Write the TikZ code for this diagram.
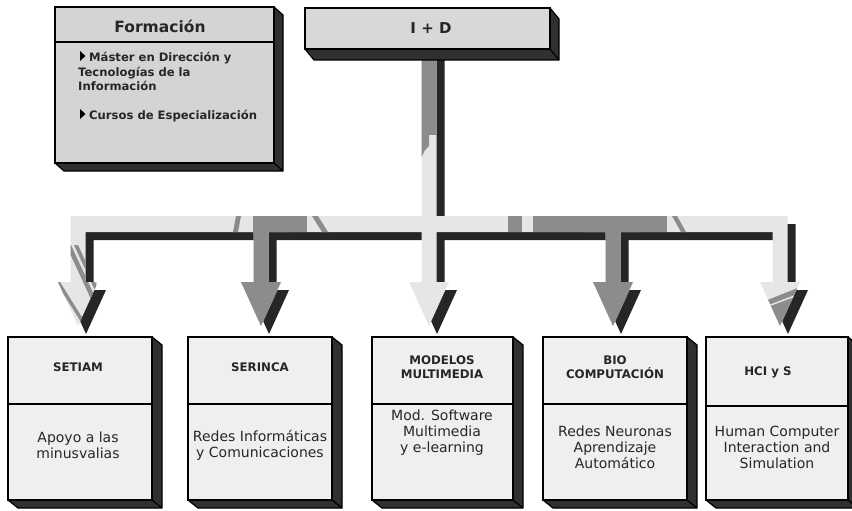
\documentclass[tikz,border=0pt]{standalone}
\usepackage{fontspec}
\setmainfont{DejaVu Sans}
\usetikzlibrary{calc}
\definecolor{arrlight}{HTML}{E6E6E6}
\definecolor{arrmed}{HTML}{8C8C8C}
\definecolor{arrdark}{HTML}{262626}
\definecolor{fillform}{HTML}{D4D4D4}
\definecolor{fillid}{HTML}{D8D8D8}
\definecolor{fillbox}{HTML}{EFEFEF}
\definecolor{shadowc}{HTML}{303030}

\newcommand\treeshape[1]{%
  \path[#1] (421.5,50) -- (436.5,50) -- (436.5,216) -- (787.5,216) -- (787.5,282) -- (800,282) -- (780,326) -- (760,282) -- (772.5,282) -- (772.5,232)
   -- (620.5,232) -- (620.5,282) -- (633,282) -- (613,326) -- (593,282) -- (605.5,282) -- (605.5,232)
   -- (436.5,232) -- (436.5,282) -- (449,282) -- (429,326) -- (409,282) -- (421.5,282) -- (421.5,232)
   -- (268.5,232) -- (268.5,282) -- (281,282) -- (261,326) -- (241,282) -- (253.5,282) -- (253.5,232)
   -- (85.5,232) -- (85.5,282) -- (98,282) -- (78,326) -- (58,282) -- (70.5,282) -- (70.5,216) -- (421.5,216) -- cycle;}

\newcommand\mkbox[8]{%
  \node[boxbase, fill=#8, minimum width={#4-#2}, minimum height={#5-#3}, anchor=north west] (#1) at (#2,#3) {};
  \filldraw[boxshadow] (#1.north east) -- ($(#1.north east)+(#6,#7)$) -- ($(#1.south east)+(#6,#7)$) -- ($(#1.south west)+(#6,#7)$) -- (#1.south west) -- (#1.south east) -- cycle;
  \draw[boxshadow] (#1.south east) -- ($(#1.south east)+(#6,#7)$);
  \draw[boxbase] (#1.north west) rectangle (#1.south east);
}

\tikzset{
  boxbase/.style={draw=black, line width=1.6pt, inner sep=0pt, outer sep=0pt},
  boxshadow/.style={fill=shadowc, draw=black, line width=1.2pt, line join=round},
  divline/.style={draw=black, line width=1.6pt},
  titletxt/.style={font=\fontsize{11.8}{14.5}\selectfont\bfseries, align=center, text=black!85},
  bodytxt/.style={font=\fontsize{14}{16}\selectfont, align=center, text=black!85},
  bullettxt/.style={font=\fontsize{11.6}{14.5}\selectfont\bfseries, anchor=base west, inner sep=0pt, text=black!85},
  headtxt/.style={font=\fontsize{15.5}{18}\selectfont\bfseries, text=black!85}
}

\begin{document}
\begin{tikzpicture}[x=1pt,y=-1pt]
\useasboundingbox (0,0) rectangle (852,511);
\fill[white] (0,0) rectangle (852,511);

% 3D arrow tree
\treeshape{fill=arrdark, shift={(8,8)}}
\treeshape{fill=arrlight}
\begin{scope}
  \treeshape{clip}
  \fill[arrmed] (410,50) rectangle (450,135);
  \fill[arrmed] (421,135) -- (429,135) -- (429,146) -- (425,150) -- (421,158) -- cycle;
  \fill[arrmed] (236,232) rectangle (290,335);
  \fill[arrmed] (253,216) rectangle (307,232);
  \fill[arrmed] (312,216) -- (318,216) -- (328,232) -- (322,232) -- cycle;
  \fill[arrmed] (236,216) -- (241,216) -- (238,232) -- (233,232) -- cycle;
  \fill[arrmed] (585,232) rectangle (640,335);
  \fill[arrmed] (533,216) rectangle (667,232);
  \fill[arrmed] (508,216) rectangle (522,232);
  \fill[arrmed] (672,216) -- (677,216) -- (686,232) -- (681,232) -- cycle;
  \fill[arrmed] (760,303) -- (800,287) -- (800,340) -- (760,340) -- cycle;
  \draw[arrlight, line width=1.5pt] (760,309) -- (800,294);
  \fill[arrmed] (66,245) -- (71,245) -- (101,310) -- (96,310) -- cycle;
  \fill[arrmed] (74,245) -- (78,245) -- (108,310) -- (104,310) -- cycle;
  \fill[arrmed] (56,282) -- (60,282) -- (90,330) -- (86,330) -- cycle;
\end{scope}

% top boxes
\mkbox{form}{55}{7}{274}{163}{9}{8}{fillform}
\draw[divline] (55,42) -- (274,42);
\node[headtxt] (formt) at (160,26) {Formación};
\fill[black] (80,51) -- (85.5,56) -- (80,61) -- cycle;
\node[bullettxt] (bl1) at (89,62) {Máster en Dirección y};
\node[bullettxt] (bl2) at (78,77) {Tecnologías de la};
\node[bullettxt] (bl3) at (78,91) {Información};
\fill[black] (80,109) -- (85.5,114) -- (80,119) -- cycle;
\node[bullettxt] (bl4) at (89,120) {Cursos de Especialización};

\mkbox{id}{305}{8}{550}{49}{9}{11}{fillid}
\node[headtxt, font=\fontsize{15}{18}\selectfont\bfseries] (idt) at (431,28) {I + D};

% bottom boxes
\mkbox{b1}{8}{337}{152}{500}{10}{8}{fillbox}
\mkbox{b2}{188}{337}{332}{500}{10}{8}{fillbox}
\mkbox{b3}{372}{337}{513}{500}{10}{8}{fillbox}
\mkbox{b4}{543}{337}{687}{500}{10}{8}{fillbox}
\mkbox{b5}{706}{337}{848}{500}{10}{8}{fillbox}
\draw[divline] (8,404) -- (152,404);
\draw[divline] (188,404) -- (332,404);
\draw[divline] (372,404) -- (513,404);
\draw[divline] (543,404) -- (687,404);
\draw[divline] (706,406) -- (848,406);

\node[titletxt] (t1) at (78,367) {SETIAM};
\node[titletxt] (t2) at (260,367) {SERINCA};
\node[titletxt] (t3) at (442,367) {MODELOS\\MULTIMEDIA};
\node[titletxt] (t4) at (615,367) {BIO\\COMPUTACIÓN};
\node[titletxt] (t5) at (768,372) {HCI y S};

\node[bodytxt] (d1) at (78,445) {Apoyo a las\\minusvalias};
\node[bodytxt] (d2) at (260,445) {Redes Informáticas\\y Comunicaciones};
\node[bodytxt] (d3) at (442,433) {Mod. Software\\Multimedia\\y e-learning};
\node[bodytxt] (d4) at (615,447) {Redes Neuronas\\Aprendizaje\\Automático};
\node[bodytxt] (d5) at (777,447) {Human Computer\\Interaction and\\Simulation};
\end{tikzpicture}
\end{document}
